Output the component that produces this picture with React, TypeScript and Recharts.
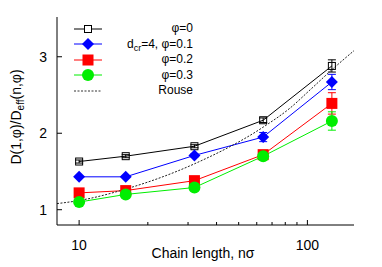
import React from "react";
import { ComposedChart, Line, XAxis, YAxis, ErrorBar } from "recharts";

// ---- data ----
const CHAIN_N = [10, 16, 32, 64, 128];
const PHI0 = [1.63, 1.7, 1.83, 2.17, 2.88];
const PHI0_ERR = [0.02, 0.02, 0.02, 0.03, 0.08];
const PHI1 = [1.43, 1.43, 1.71, 1.95, 2.67];
const PHI1_ERR = [0.01, 0.01, 0.02, 0.06, 0.1];
const PHI2 = [1.22, 1.25, 1.38, 1.72, 2.39];
const PHI2_ERR = [0.02, 0.02, 0.03, 0.04, 0.14];
const PHI3 = [1.1, 1.2, 1.29, 1.7, 2.16];
const PHI3_ERR = [0.01, 0.02, 0.02, 0.03, 0.12];
const ROUSE_N = [8, 10, 16, 32, 64, 84, 103, 128, 160];
const ROUSE = [1.08, 1.12, 1.27, 1.6, 2.08, 2.33, 2.57, 2.83, 3.08];

const X_TICKS = [10, 20, 30, 40, 50, 60, 70, 80, 90, 100];
const X_LABELED = [10, 100];
const Y_TICKS = [1, 2, 3];

const rows = CHAIN_N.map((n, i) => ({
  n,
  p0: PHI0[i],
  p0e: PHI0_ERR[i],
  p1: PHI1[i],
  p1e: PHI1_ERR[i],
  p2: PHI2[i],
  p2e: PHI2_ERR[i],
  p3: PHI3[i],
  p3e: PHI3_ERR[i],
}));
const rouseRows = ROUSE_N.map((n, i) => ({ n, rouse: ROUSE[i] }));

const FONT = "'Liberation Sans', Arial, Helvetica, sans-serif";
const BLUE = "#0000ff";
const RED = "#ff0000";
const GREEN = "#00ee00";

const BOTTOM_MARGIN = 12;
const LEFT_MARGIN = 10;

// ---- markers ----
const OpenSquare = (p: any) =>
  p.cx == null ? null : (
    <rect key={p.index} x={p.cx - 3.5} y={p.cy - 3.5} width={7} height={7} fill="none" stroke="#000" strokeWidth={1} />
  );
const Diamond = (p: any) =>
  p.cx == null ? null : (
    <polygon
      key={p.index}
      points={`${p.cx},${p.cy - 6} ${p.cx + 6},${p.cy} ${p.cx},${p.cy + 6} ${p.cx - 6},${p.cy}`}
      fill={BLUE}
    />
  );
const FilledSquare = (p: any) =>
  p.cx == null ? null : <rect key={p.index} x={p.cx - 5.5} y={p.cy - 5.5} width={11} height={11} fill={RED} />;
const Circle = (p: any) =>
  p.cx == null ? null : <circle key={p.index} cx={p.cx} cy={p.cy} r={6} fill={GREEN} />;

// ---- ticks (drawn inside the frame) ----
const BottomTick = (props: any) => {
  const { x, y, payload } = props;
  const v = payload.value;
  const major = X_LABELED.includes(v);
  const edge = y - BOTTOM_MARGIN;
  return (
    <g>
      <line x1={x} x2={x} y1={edge} y2={edge - (major ? 5 : 3)} stroke="#000" strokeWidth={1} />
      {major && (
        <text x={x} y={y} dy={13} textAnchor="middle" fontSize={14} fontFamily={FONT} fill="#000">
          {v}
        </text>
      )}
    </g>
  );
};
const TopTick = (props: any) => {
  const { x, y, payload } = props;
  const major = X_LABELED.includes(payload.value);
  return <line x1={x} x2={x} y1={y} y2={y + (major ? 5 : 3)} stroke="#000" strokeWidth={1} />;
};
const LeftTick = (props: any) => {
  const { x, y, payload } = props;
  const edge = x + LEFT_MARGIN;
  return (
    <g>
      <line x1={edge} x2={edge + 5} y1={y} y2={y} stroke="#000" strokeWidth={1} />
      <text x={x} y={y} dy={5} textAnchor="end" fontSize={14} fontFamily={FONT} fill="#000">
        {payload.value}
      </text>
    </g>
  );
};
const RightTick = (props: any) => {
  const { x, y } = props;
  return <line x1={x} x2={x - 5} y1={y} y2={y} stroke="#000" strokeWidth={1} />;
};

// ---- legend ----
const LEGEND = [
  { key: "p0", label: <>φ=0</>, color: "#000", marker: "open" },
  {
    key: "p1",
    label: (
      <>
        d<sub style={{ fontSize: 9, verticalAlign: "-3px" }}>cr</sub>=4, φ=0.1
      </>
    ),
    color: BLUE,
    marker: "diamond",
  },
  { key: "p2", label: <>φ=0.2</>, color: RED, marker: "square" },
  { key: "p3", label: <>φ=0.3</>, color: GREEN, marker: "circle" },
  { key: "rouse", label: <>Rouse</>, color: "#333", marker: "dash" },
];

const LegendSymbol = ({ color, marker }: { color: string; marker: string }) => (
  <svg width={28} height={14} style={{ position: "absolute", left: 0, top: 0.75 }}>
    <line
      x1={0}
      x2={28}
      y1={7}
      y2={7}
      stroke={color}
      strokeWidth={1}
      strokeDasharray={marker === "dash" ? "2 1.5" : undefined}
    />
    {marker === "open" && <rect x={10.5} y={3.5} width={7} height={7} fill="#fff" stroke="#000" />}
    {marker === "diamond" && <polygon points="14,1 20,7 14,13 8,7" fill={BLUE} />}
    {marker === "square" && <rect x={8.5} y={1.5} width={11} height={11} fill={RED} />}
    {marker === "circle" && <circle cx={14} cy={7} r={6} fill={GREEN} />}
  </svg>
);

export default function App() {
  return (
    <div style={{ position: "absolute", left: 0, top: 0, width: 382, height: 267, background: "#fff" }}>
      <ComposedChart width={382} height={267} data={rows} margin={{ top: 17, right: 28, bottom: 0, left: 0 }}>
        <XAxis
          xAxisId="b"
          dataKey="n"
          type="number"
          scale="log"
          domain={[8, 160]}
          allowDataOverflow
          ticks={X_TICKS}
          interval={0}
          height={42}
          tickSize={0}
          tickMargin={BOTTOM_MARGIN}
          tickLine={false}
          tick={<BottomTick />}
          stroke="#000"
          label={{
            content: () => (
              <text x={203} y={258} textAnchor="middle" fontSize={14} fontFamily={FONT} fill="#000">
                Chain length, nσ
              </text>
            ),
          }}
        />
        <XAxis
          xAxisId="t"
          orientation="top"
          dataKey="n"
          type="number"
          scale="log"
          domain={[8, 160]}
          allowDataOverflow
          ticks={X_TICKS}
          interval={0}
          height={0}
          tickSize={0}
          tickMargin={0}
          tickLine={false}
          tick={<TopTick />}
          stroke="#000"
        />
        <YAxis
          yAxisId="l"
          type="number"
          domain={[0.8, 3.52]}
          allowDataOverflow
          ticks={Y_TICKS}
          interval={0}
          width={57}
          tickSize={0}
          tickMargin={LEFT_MARGIN}
          tickLine={false}
          tick={<LeftTick />}
          stroke="#000"
          label={{
            content: () => (
              <text
                transform="translate(21,117) rotate(-90)"
                textAnchor="middle"
                fontSize={14}
                fontFamily={FONT}
                fill="#000"
              >
                D(1,φ)/D
                <tspan fontSize={10} dy={3}>
                  eff
                </tspan>
                <tspan dy={-3}>(n,φ)</tspan>
              </text>
            ),
          }}
        />
        <YAxis
          yAxisId="r"
          orientation="right"
          type="number"
          domain={[0.8, 3.52]}
          allowDataOverflow
          ticks={Y_TICKS}
          interval={0}
          width={0}
          tickSize={0}
          tickMargin={0}
          tickLine={false}
          tick={<RightTick />}
          stroke="#000"
        />
        <Line
          xAxisId="b"
          yAxisId="l"
          dataKey="p0"
          stroke="#000"
          strokeWidth={1}
          dot={OpenSquare}
          activeDot={false}
          isAnimationActive={false}
        >
          <ErrorBar dataKey="p0e" direction="y" width={4} stroke="#000" strokeWidth={1} />
        </Line>
        <Line
          xAxisId="b"
          yAxisId="l"
          dataKey="p1"
          stroke={BLUE}
          strokeWidth={1}
          dot={Diamond}
          activeDot={false}
          isAnimationActive={false}
        >
          <ErrorBar dataKey="p1e" direction="y" width={4} stroke={BLUE} strokeWidth={1} />
        </Line>
        <Line
          xAxisId="b"
          yAxisId="l"
          dataKey="p2"
          stroke={RED}
          strokeWidth={1}
          dot={FilledSquare}
          activeDot={false}
          isAnimationActive={false}
        >
          <ErrorBar dataKey="p2e" direction="y" width={4} stroke={RED} strokeWidth={1} />
        </Line>
        <Line
          xAxisId="b"
          yAxisId="l"
          dataKey="p3"
          stroke={GREEN}
          strokeWidth={1}
          dot={Circle}
          activeDot={false}
          isAnimationActive={false}
        >
          <ErrorBar dataKey="p3e" direction="y" width={4} stroke={GREEN} strokeWidth={1} />
        </Line>
        <Line
          xAxisId="b"
          yAxisId="l"
          data={rouseRows}
          dataKey="rouse"
          type="monotone"
          stroke="#222"
          strokeWidth={1}
          strokeDasharray="2 1.5"
          dot={false}
          activeDot={false}
          isAnimationActive={false}
        />
      </ComposedChart>
      {LEGEND.map((item, i) => (
        <div
          key={item.key}
          style={{
            position: "absolute",
            left: 74,
            top: 21 + i * 15.5,
            width: 119,
            height: 15.5,
            fontFamily: FONT,
            fontSize: 12,
            lineHeight: "15.5px",
            textAlign: "right",
            color: "#000",
            whiteSpace: "nowrap",
          }}
        >
          <LegendSymbol color={item.color} marker={item.marker} />
          <span>{item.label}</span>
        </div>
      ))}
    </div>
  );
}
